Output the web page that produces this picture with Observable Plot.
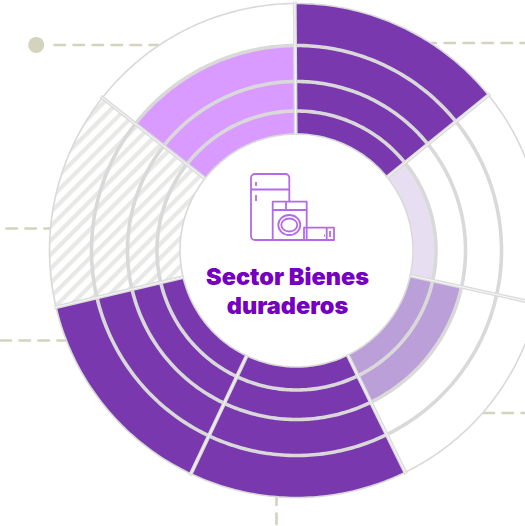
<!DOCTYPE html>
<html><head><meta charset="utf-8">
<style>html,body{margin:0;padding:0;background:#fff}svg{display:block}</style>
<script src="https://cdn.jsdelivr.net/npm/d3@7"></script>
<script src="https://cdn.jsdelivr.net/npm/@observablehq/plot@0.6"></script>
</head><body><div id="chart"></div>
<script>
// Data: seven sectors clockwise from 12 o'clock, four rings inner to outer
const sectors = ["s1","s2","s3","s4","s5","s6","s7"];
const s1 = ["alto","alto","alto","alto"];
const s2 = ["bajo","vacio","vacio","vacio"];
const s3 = ["medio","medio","vacio","vacio"];
const s4 = ["alto","alto","alto","alto"];
const s5 = ["alto","alto","alto","alto"];
const s6 = ["nd","nd","nd","nd"];
const s7 = ["rosa","rosa","rosa","vacio"];
const grid = [s1,s2,s3,s4,s5,s6,s7];
const statuses = ["alto","medio","bajo","rosa","vacio","nd"];
const statusColors = ["#7a38ae","#bb9fd9","#e7dff1","#d99bff","#ffffff","url(#hatch)"];
const ringEdges = [116.5,139.5,169,205,247];
const titleLines = ["Sector Bienes","duraderos"];
const leaders = [
  {x1:54,x2:158,y1:44.5,y2:44.5},{x1:425,x2:525,y1:42.5,y2:42.5},
  {x1:6,x2:50,y1:228,y2:228},{x1:0,x2:67,y1:340,y2:340},
  {x1:483,x2:525,y1:412.5,y2:412.5},{x1:276,x2:276,y1:494,y2:526}
];
const dots = [{x:35.7,y:44.5}];

const cx = 296, cy = 250, W = 525, H = 526;
const step = 2*Math.PI/sectors.length, rot = -0.4*Math.PI/180;
const pt = (a,r)=>[cx+r*Math.sin(a+rot), cy-r*Math.cos(a+rot)];
function arc(a0,a1,r){const n=60,o=[];for(let i=0;i<=n;i++)o.push(pt(a0+(a1-a0)*i/n,r));return o;}

const cellPts=[], ringPts=[], edgePts=[], radials=[];
grid.forEach((col,i)=>{
  const a0=i*step,a1=(i+1)*step;
  col.forEach((st,j)=>{
    const id=`${i}-${j}`;
    const poly=[...arc(a0,a1,ringEdges[j]),...arc(a1,a0,ringEdges[j+1])];
    poly.push(poly[0]);
    poly.forEach(p=>cellPts.push({id,status:st,x:p[0],y:p[1]}));
  });
  ringEdges.forEach((r,k)=>{
    const target=(k===0||k===ringEdges.length-1)?edgePts:ringPts;
    arc(a0,a1,r).forEach(p=>target.push({id:`${i}-${k}`,x:p[0],y:p[1]}));
  });
  const inn=pt(a0,ringEdges[0]),out=pt(a0,ringEdges[4]+2);
  radials.push({x1:inn[0],y1:inn[1],x2:out[0],y2:out[1]});
});

const hatchDefs = ()=>{
  const s=d3.create("svg:defs");
  const p=s.append("pattern").attr("id","hatch").attr("patternUnits","userSpaceOnUse")
    .attr("width",10).attr("height",10).attr("patternTransform","rotate(-45 0 0) translate(0 3)");
  p.append("rect").attr("width",10).attr("height",10).attr("fill","#fff");
  p.append("rect").attr("width",10).attr("height",4.3).attr("fill","#e8e8e6");
  return s.node();
};
const icon = ()=>{
  const g=d3.create("svg:g").attr("fill","none").attr("stroke","#b46ae8").attr("stroke-width",1.8).attr("stroke-linejoin","round");
  g.append("path").attr("d","M272.700 240H255a4 4 0 0 1-4-4V178a4 4 0 0 1 4-4h30.300a4 4 0 0 1 4 4V201.700M251 189.500H289.300M256 182v4M256 195v6");
  g.append("rect").attr("x",272.7).attr("y",201.7).attr("width",34).attr("height",38.3);
  g.append("path").attr("d","M272.700 210H306.700M286 201.700V210");
  g.append("ellipse").attr("cx",289.3).attr("cy",225).attr("rx",11).attr("ry",10);
  g.append("ellipse").attr("cx",289.3).attr("cy",225).attr("rx",8).attr("ry",6.5);
  g.append("rect").attr("x",304).attr("y",227.7).attr("width",30).attr("height",12.3);
  g.append("path").attr("d","M326.700 227.700V240M324 235.500h1M330 231v6");
  return g.node();
};

const chart = Plot.plot({
  width:W,height:H,margin:0,
  x:{domain:[0,W],range:[0,W],axis:null},
  y:{domain:[0,H],range:[0,H],axis:null},
  color:{domain:statuses,range:statusColors},
  style:{background:"#fff"},
  marks:[
    hatchDefs,
    Plot.line(leaders.flatMap((d,i)=>[{i,x:d.x1,y:d.y1},{i,x:d.x2,y:d.y2}]),{x:"x",y:"y",z:"i",stroke:"#d3d3bf",strokeWidth:2.6,strokeDasharray:"10.500 8.500",curve:"linear"}),
    Plot.dot(dots,{x:"x",y:"y",r:8,fill:"#d3d3bf"}),
    Plot.line(cellPts,{x:"x",y:"y",z:"id",fill:"status",stroke:null,curve:"linear"}),
    Plot.line(ringPts,{x:"x",y:"y",z:"id",stroke:"#d9d9d9",strokeWidth:3.6,curve:"linear"}),
    Plot.line(edgePts,{x:"x",y:"y",z:"id",stroke:"#d9d9d9",strokeWidth:1.6,curve:"linear"}),
    Plot.link(radials,{x1:"x1",y1:"y1",x2:"x2",y2:"y2",stroke:"#dcdcdc",strokeWidth:3.8}),
    Plot.link(radials,{x1:"x1",y1:"y1",x2:"x2",y2:"y2",stroke:"#fff",strokeWidth:0.8}),
    icon,
    Plot.text(titleLines,{x:()=>287,y:(d,i)=>284.5+i*29,text:d=>d,fill:"#7500c0",fontSize:23.5,fontWeight:900,fontFamily:"Inter",lineAnchor:"bottom",textAnchor:"middle"})
  ]
});
document.getElementById("chart").append(chart);
</script></body></html>
